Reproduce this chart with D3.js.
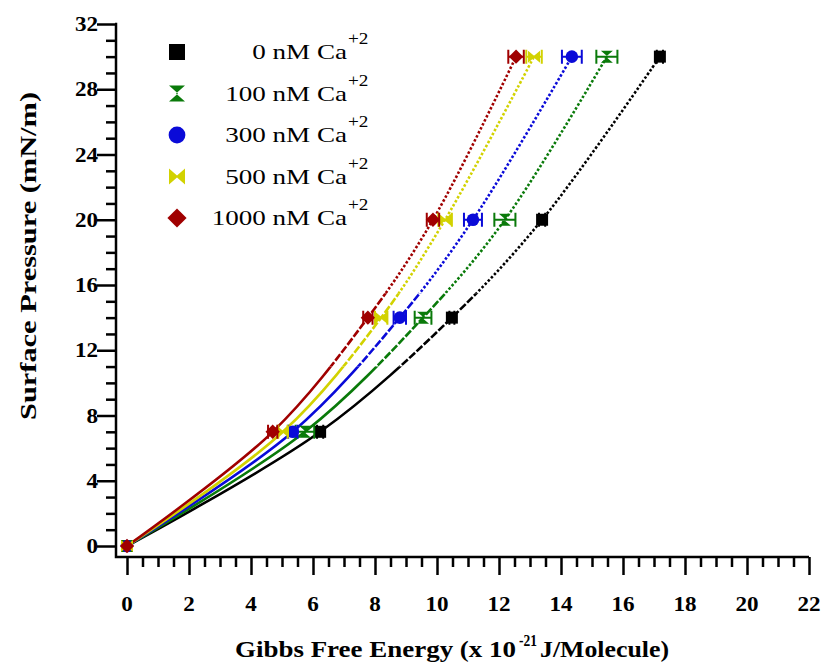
<!DOCTYPE html>
<html>
<head>
<meta charset="utf-8">
<script src="https://cdn.jsdelivr.net/npm/d3@7"></script>
<style>
  body { margin: 0; background: #fff; }
  text { font-family: "Liberation Serif", "Times New Roman", serif; }
</style>
</head>
<body>
<script>
let width = 826, height = 665;

// data
let concentrations = ["0", "100", "300", "500", "1000"];
let pressures = [0, 7, 14, 20, 30];
let energy0 = [0, 6.23, 10.48, 13.39, 17.19];
let energy100 = [0, 5.74, 9.55, 12.19, 15.48];
let energy300 = [0, 5.35, 8.8, 11.16, 14.35];
let energy500 = [0, 5.03, 8.2, 10.26, 13.13];
let energy1000 = [0, 4.7, 7.77, 9.87, 12.55];
let err0 = [0, 0.1, 0.08, 0.1, 0.1];
let err100 = [0, 0.3, 0.27, 0.34, 0.34];
let err300 = [0, 0.15, 0.2, 0.29, 0.32];
let err500 = [0, 0.15, 0.2, 0.22, 0.25];
let err1000 = [0, 0.15, 0.15, 0.2, 0.25];
let colors = ["#000000", "#0a7a0a", "#0a0ad8", "#d2d200", "#a00000"];
let shapes = ["square", "hourglass", "circle", "bowtie", "diamond"];
let xTicks = d3.range(0, 23, 2);
let yTicks = d3.range(0, 33, 4);

let energies = [energy0, energy100, energy300, energy500, energy1000];
let errors = [err0, err100, err300, err500, err1000];
let series = concentrations.map((c, i) => ({
    name: c, color: colors[i], shape: shapes[i],
    points: pressures.map((p, j) => ({ x: energies[i][j], y: p, e: errors[i][j] }))
}));

let svg = d3.select("body").append("svg")
    .attr("width", width)
    .attr("height", height);

let x = d3.scaleLinear().domain([0, 22]).range([127, 809]);
let y = d3.scaleLinear().domain([0, 32]).range([546, 24]);
let axisX = 116, axisY = 557;

// the original font runs wider than Liberation Serif
function stretch(sel, k) {
    sel.each(function() {
        let w = this.getComputedTextLength();
        d3.select(this).attr("textLength", w * k).attr("lengthAdjust", "spacingAndGlyphs");
    });
    return sel;
}

// marker shapes
function markerPath(shape, s) {
    if (shape === "square") return `M${-s},${-s}H${s}V${s}H${-s}Z`;
    if (shape === "hourglass") return `M${-s},${-s}H${s}L${-1},0L${s},${s}H${-s}L${1},0Z`;
    if (shape === "bowtie") return `M${-s},${-s}L0,${-1}L${s},${-s}V${s}L0,${1}L${-s},${s}Z`;
    if (shape === "diamond") return `M0,${-s * 1.2}L${s * 1.2},0L0,${s * 1.2}L${-s * 1.2},0Z`;
    return d3.symbol(d3.symbolCircle, Math.PI * s * s * 1.1)();
}

// clip bands for the curve style
let defs = svg.append("defs");
let bands = [
    { id: "solid", lo: -2, hi: 11, dash: null },
    { id: "dashed", lo: 11, hi: 15.5, dash: "8,2" },
    { id: "dotted", lo: 15.5, hi: 33, dash: "2.5,2" }
];
bands.forEach(b => {
    defs.append("clipPath").attr("id", "clip-" + b.id)
        .append("rect")
        .attr("x", 0).attr("width", width)
        .attr("y", y(b.hi)).attr("height", y(b.lo) - y(b.hi));
});

let line = d3.line()
    .x(d => x(d.x))
    .y(d => y(d.y))
    .curve(d3.curveCatmullRom.alpha(0.5));

// curves
series.forEach(s => {
    bands.forEach(b => {
        svg.append("path")
            .attr("d", line(s.points))
            .attr("fill", "none")
            .attr("stroke", s.color)
            .attr("stroke-width", 2.6)
            .attr("stroke-dasharray", b.dash)
            .attr("clip-path", `url(#clip-${b.id})`);
    });
});

// error bars and markers
series.forEach(s => {
    let g = svg.append("g");
    let bars = s.points.filter(d => d.e > 0);
    g.selectAll("path.err").data(bars).enter().append("path")
        .attr("class", "err")
        .attr("fill", "none")
        .attr("stroke", s.color)
        .attr("stroke-width", 2)
        .attr("d", d => {
            let x0 = x(d.x - d.e), x1 = x(d.x + d.e), yy = y(d.y);
            return `M${x0},${yy - 7}V${yy + 7}M${x0},${yy}H${x1}M${x1},${yy - 7}V${yy + 7}`;
        });
    g.selectAll("path.mark").data(s.points).enter().append("path")
        .attr("class", "mark")
        .attr("transform", d => `translate(${x(d.x)},${y(d.y)})`)
        .attr("d", markerPath(s.shape, 6))
        .attr("fill", s.color);
});

// axes
let yAxis = svg.append("g")
    .attr("transform", `translate(${axisX},0)`)
    .call(d3.axisLeft(y).tickValues(d3.range(0, 33, 1)).tickSize(10).tickFormat(""));
yAxis.selectAll(".tick line").filter(d => d % 4 === 0).attr("x2", -19);
yAxis.select(".domain").remove();

let xAxis = svg.append("g")
    .attr("transform", `translate(0,${axisY})`)
    .call(d3.axisBottom(x).tickValues(d3.range(0, 22.01, 0.5)).tickSize(10).tickFormat(""));
xAxis.selectAll(".tick line").filter(d => d % 2 === 0).attr("y2", 18);
xAxis.select(".domain").remove();

svg.selectAll(".tick line").attr("stroke", "#000").attr("stroke-width", 2.5);

svg.append("path")
    .attr("d", `M${axisX - 1},${y(32)}H${axisX}V${axisY}H${x(22)}`)
    .attr("fill", "none")
    .attr("stroke", "#000")
    .attr("stroke-width", 2.5);

stretch(svg.selectAll("text.ylab").data(yTicks).enter().append("text")
    .attr("class", "ylab")
    .attr("x", 98)
    .attr("y", d => y(d) + 7)
    .attr("text-anchor", "end")
    .attr("font-weight", "bold")
    .attr("font-size", 21)
    .text(d => d), 1.1);

stretch(svg.selectAll("text.xlab").data(xTicks).enter().append("text")
    .attr("class", "xlab")
    .attr("x", d => x(d))
    .attr("y", 611)
    .attr("text-anchor", "middle")
    .attr("font-weight", "bold")
    .attr("font-size", 21)
    .text(d => d), 1.1);

// axis titles
svg.append("text")
    .attr("transform", "translate(36,256) rotate(-90)")
    .attr("text-anchor", "middle")
    .attr("font-weight", "bold")
    .attr("font-size", 24)
    .attr("textLength", 328)
    .attr("lengthAdjust", "spacingAndGlyphs")
    .text("Surface Pressure (mN/m)");

let titleParts = [
    { t: "Gibbs Free Energy (x 10", size: 24, dy: 0, len: 281, gap: 3 },
    { t: "-21", size: 16, dy: -11, len: 18, gap: 3 },
    { t: "J/Molecule)", size: 24, dy: 0, len: 129, gap: 0 }
];
let cx = 235;
titleParts.forEach(p => {
    svg.append("text")
        .attr("x", cx)
        .attr("y", 657 + p.dy)
        .attr("font-weight", "bold")
        .attr("font-size", p.size)
        .attr("textLength", p.len)
        .attr("lengthAdjust", "spacingAndGlyphs")
        .text(p.t);
    cx += p.len + p.gap;
});

// legend
let legend = svg.append("g");
series.forEach((s, i) => {
    let ly = 52 + i * 41.5;
    legend.append("path")
        .attr("transform", `translate(177,${ly})`)
        .attr("d", markerPath(s.shape, 8))
        .attr("fill", s.color);
    stretch(legend.append("text")
        .attr("x", 347)
        .attr("y", ly + 7)
        .attr("text-anchor", "end")
        .attr("font-size", 22)
        .text(s.name + " nM Ca"), 1.23);
    stretch(legend.append("text")
        .attr("x", 348)
        .attr("y", ly - 8)
        .attr("font-size", 16)
        .text("+2"), 1.2);
});
</script>
</body>
</html>
